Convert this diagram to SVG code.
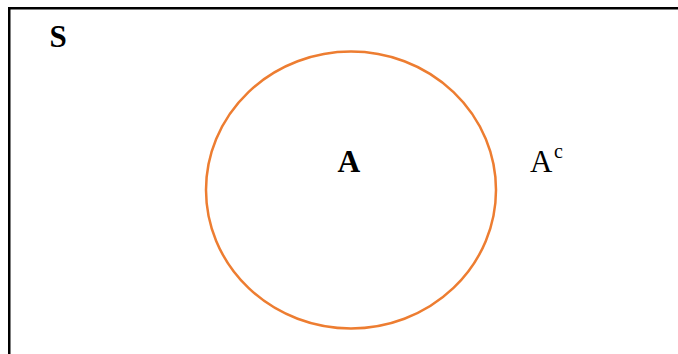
<svg xmlns="http://www.w3.org/2000/svg" width="678" height="354" viewBox="0 0 678 354">
<style>
.t{font-family:"Liberation Serif","Times New Roman",serif;fill:#000}
.b{font-weight:bold}
</style>
<rect width="678" height="354" fill="#fff"/>
<g id="universe">
<path d="M9.25,354 V8.25 H678" fill="none" stroke="#000" stroke-width="2.5"/>
<text class="t b" x="49.5" y="46.5" font-size="31">S</text>
</g>
<g id="setA">
<ellipse cx="351" cy="190" rx="145" ry="138.5" fill="none" stroke="#ED7D31" stroke-width="2.5"/>
<text class="t b" x="337.5" y="172" font-size="31.5">A</text>
</g>
<g id="complement">
<text class="t" x="530" y="171.5" font-size="31">A</text>
<text class="t" x="554" y="158" font-size="20">c</text>
</g>
<g id="connectors"/>
</svg>
